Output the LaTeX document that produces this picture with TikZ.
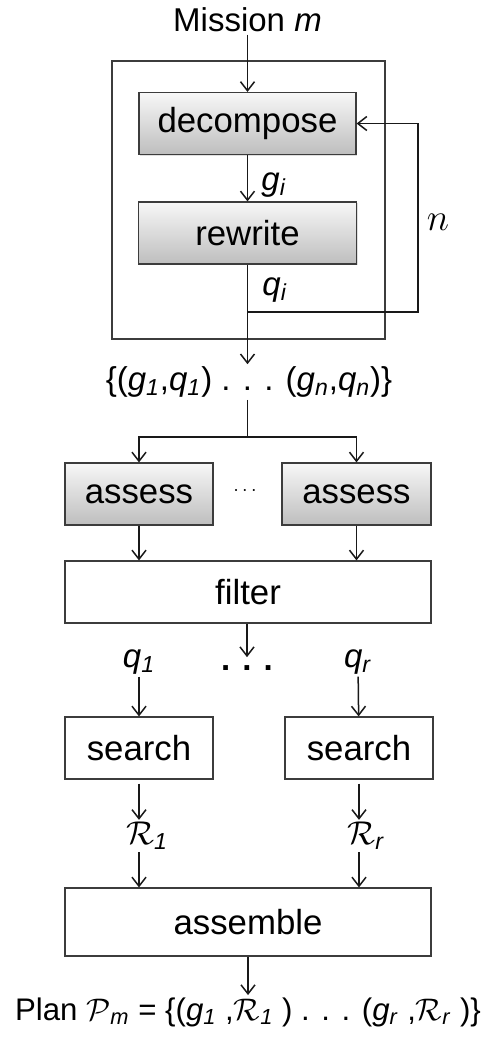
\documentclass[tikz,border=0pt]{standalone}
\usepackage{fix-cm}
\usepackage{fontspec}
\setmainfont{Liberation Sans}
\usepackage{tikz}
\usetikzlibrary{arrows.meta, positioning, shadows}
\definecolor{mydark}{RGB}{25,25,25}
\definecolor{myedge}{RGB}{60,60,60}
\definecolor{shadetop}{RGB}{247,247,247}
\definecolor{shadebot}{RGB}{190,190,190}
\tikzset{
  graybox/.style={rectangle, draw=myedge, top color=shadetop, bottom color=shadebot,
    minimum height=31pt, font=\fontsize{17.4}{20}\selectfont, inner sep=0pt,
    line width=0.6pt, drop shadow={opacity=0.25, shadow xshift=0.7pt, shadow yshift=-0.7pt}},
  plainbox/.style={rectangle, draw=myedge, fill=white,
    minimum height=31pt, font=\fontsize{17.4}{20}\selectfont, inner sep=0pt,
    line width=0.6pt, drop shadow={opacity=0.2, shadow xshift=0.7pt, shadow yshift=-0.7pt}},
  frame/.style={rectangle, draw=myedge, fill=white, line width=0.6pt,
    drop shadow={opacity=0.2, shadow xshift=0.7pt, shadow yshift=-0.7pt}},
  lbl/.style={font=\fontsize{16.5}{19}\selectfont, inner sep=1pt},
  arrow/.style={-{Straight Barb[length=4.5pt,width=7pt]}, line width=0.75pt, color=mydark},
  line/.style={line width=0.75pt, color=mydark}
}
\newcommand{\sv}[2]{\textit{#1}\textsubscript{\textit{#2}}}

\begin{document}
\begin{tikzpicture}[x=0.5pt, y=-0.5pt]
  \useasboundingbox (0,0) rectangle (489,1040);

  \node[frame, minimum width=136.5pt, minimum height=139pt] (loopbox) at (248.5,200) {};
  \node[lbl] (mission) at (247.5,20) {Mission \textit{m}};
  \node[graybox, minimum width=108.5pt] (decompose) at (247.5,123.5) {decompose};
  \node[graybox, minimum width=109pt] (rewrite) at (247.5,233) {rewrite};
  \node[lbl, anchor=west] (glbl) at (259,185) {\sv{g}{i}};
  \node[lbl, anchor=west] (qlbl) at (260,290) {\sv{q}{i}};
  \node[font=\fontsize{19}{21}\selectfont] (nlbl) at (438,222) {$n$};
  \coordinate (fb) at (247.5,312);
  \coordinate (fbr) at (418,312);

  \node[lbl] (pairs) at (249,382) {\{(\sv{g}{1},\sv{q}{1}) . . . (\sv{g}{n},\sv{q}{n})\}};
  \coordinate (split) at (247.5,437);

  \node[graybox, minimum width=74pt] (assessL) at (139,494) {assess};
  \node[graybox, minimum width=74.5pt] (assessR) at (356.5,494) {assess};
  \node[font=\fontsize{10}{12}\selectfont] (hdots) at (245,491) {$\cdots$};
  \node[plainbox, minimum width=183pt] (filter) at (248,592) {filter};

  \node[lbl, inner sep=0pt] (dots) at (247,668) {\textbf{.\hspace{6pt}.\hspace{6pt}.}};
  \node[lbl] (q1) at (139,662) {\sv{q}{1}};
  \node[lbl] (qr) at (358,662) {\sv{q}{r}};
  \node[plainbox, minimum width=74pt] (searchL) at (139,748) {search};
  \node[plainbox, minimum width=74pt] (searchR) at (359,748) {search};
  \node[lbl] (R1) at (147,836) {$\mathcal{R}$\textsubscript{\textit{1}}};
  \node[lbl] (Rr) at (366,836) {$\mathcal{R}$\textsubscript{\textit{r}}};
  \node[plainbox, minimum width=183pt, minimum height=34pt] (assemble) at (248,922) {assemble};
  \node[lbl, font=\fontsize{15.6}{18}\selectfont] (plan) at (248,1012) {Plan $\mathcal{P}$\textsubscript{\textit{m}} = \{(\sv{g}{1} ,$\mathcal{R}$\textsubscript{\textit{1}} ) . . . (\sv{g}{r} ,$\mathcal{R}$\textsubscript{\textit{r}} )\}};

  \draw[arrow] (mission) -- (decompose);
  \draw[arrow] (decompose) -- (rewrite);
  \draw[arrow] (rewrite) -- (pairs.north -| rewrite);
  \draw[arrow] (fb) -- (fbr) |- (decompose.east);
  \draw[line] (pairs.south -| split) -- (split);
  \draw[arrow] (split) -| (assessL.north);
  \draw[arrow] (split) -| (assessR.north);
  \draw[arrow] (assessL) -- (assessL |- filter.north);
  \draw[arrow] (assessR) -- (assessR |- filter.north);
  \draw[arrow, shorten >=4pt] (filter.south -| dots) -- (dots.north);
  \draw[arrow] (q1) -- (searchL);
  \draw[arrow] (qr) -- (searchR);
  \draw[arrow, shorten <=2pt] (searchL) -- (searchL |- R1.north);
  \draw[arrow, shorten <=2pt] (searchR) -- (searchR |- Rr.north);
  \draw[arrow] (searchL |- R1.south) -- (searchL |- assemble.north);
  \draw[arrow] (searchR |- Rr.south) -- (searchR |- assemble.north);
  \draw[arrow] (assemble) -- (plan);
\end{tikzpicture}
\end{document}
